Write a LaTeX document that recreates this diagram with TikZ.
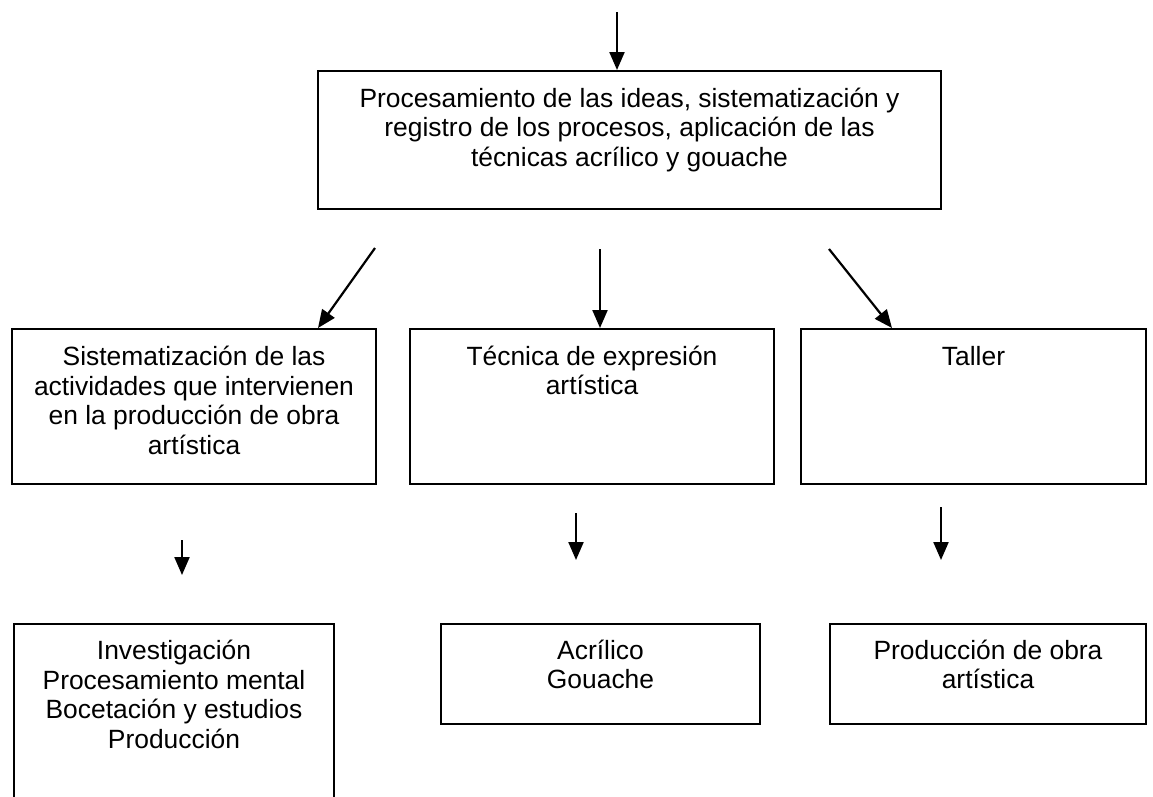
\documentclass[tikz,border=0pt]{standalone}
\usepackage{fontspec}
\setmainfont{Liberation Sans}
\usetikzlibrary{arrows.meta,calc}

\tikzset{
  blk/.style={draw, line width=2pt, inner sep=0pt, anchor=north west},
  lbl/.style={align=center, inner sep=0pt, anchor=base, font=\fontsize{26.4}{29.5}\selectfont},
  arr/.style={line width=2.2pt, -{Triangle[width=15pt,length=18pt]}}
}

\begin{document}
\begin{tikzpicture}[x=1pt,y=1pt,yscale=-1,xscale=1]
\useasboundingbox (0,0) rectangle (1153,796);
\clip (0,0) rectangle (1153,796);

%Shape: Rectangle [top]
\node[blk, minimum width=623pt, minimum height=138pt] (top) at (317,70) {};
%Shape: Rectangle [middle row]
\node[blk, minimum width=364pt, minimum height=155pt] (m1) at (11,328) {};
\node[blk, minimum width=364pt, minimum height=155pt] (m2) at (409,328) {};
\node[blk, minimum width=345pt, minimum height=155pt] (m3) at (800,328) {};
%Shape: Rectangle [bottom row]
\node[blk, minimum width=320pt, minimum height=200pt] (b1) at (13,623) {};
\node[blk, minimum width=319pt, minimum height=100pt] (b2) at (440,623) {};
\node[blk, minimum width=316pt, minimum height=100pt] (b3) at (829,623) {};

%Straight Lines
\coordinate (a0) at (617,12);
\coordinate (a1) at (375,248);
\coordinate (a2) at (600,249);
\coordinate (a3) at (829,249);
\draw[arr] (a0) -- (a0 |- top.north);
\draw[arr] (a1) -- ($(m1.north west)+(307,0)$);
\draw[arr] (a2) -- (a2 |- m2.north);
\draw[arr] (a3) -- ($(m3.north west)+(92,0)$);

\coordinate (d1) at (182,540);
\coordinate (e1) at (182,575);
\coordinate (d2) at (576,513);
\coordinate (e2) at (576,560);
\coordinate (d3) at (941,507);
\coordinate (e3) at (941,560);
\draw[arr] (d1) -- (e1);
\draw[arr] (d2) -- (e2);
\draw[arr] (d3) -- (e3);

% Text Node (base = last line)
\node[lbl] (ttop) at ($(top.north)+(0,96)$) {Procesamiento de las ideas, sistematización y\\registro de los procesos, aplicación de las\\técnicas acrílico y gouache};
% Text Node
\node[lbl] (tm1) at ($(m1.north)+(0,126)$) {Sistematización de las\\actividades que intervienen\\en la producción de obra\\artística};
% Text Node
\node[lbl] (tm2) at ($(m2.north)+(0,66.5)$) {Técnica de expresión\\artística};
% Text Node
\node[lbl] (tm3) at ($(m3.north)+(0,37)$) {Taller};
% Text Node
\node[lbl] (tb1) at ($(b1.north)+(0,125)$) {Investigación\\Procesamiento mental\\Bocetación y estudios\\Producción};
% Text Node
\node[lbl] (tb2) at ($(b2.north)+(0,65.5)$) {Acrílico\\Gouache};
% Text Node
\node[lbl] (tb3) at ($(b3.north)+(0,65.5)$) {Producción de obra\\artística};

\end{tikzpicture}
\end{document}
